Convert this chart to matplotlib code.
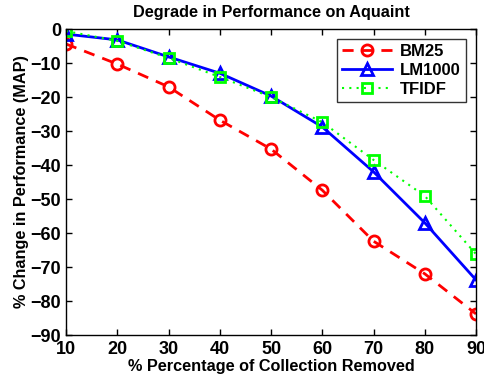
import matplotlib
matplotlib.use("Agg")
import matplotlib.pyplot as plt

# Datos
removed = [10, 20, 30, 40, 50, 60, 70, 80, 90]
bm25 = [-4.4, -10.3, -17.0, -26.8, -35.3, -47.4, -62.4, -72.0, -83.8]
lm1000 = [-1.5, -3.2, -8.2, -13.0, -19.7, -28.8, -42.0, -57.0, -73.8]
tfidf = [-0.6, -3.5, -8.5, -14.1, -20.0, -27.4, -38.5, -49.1, -66.2]
xticks = [10, 20, 30, 40, 50, 60, 70, 80, 90]
yticks = [0, -10, -20, -30, -40, -50, -60, -70, -80, -90]

plt.rcParams["font.family"] = ["Liberation Sans", "DejaVu Sans"]
plt.rcParams["font.weight"] = "bold"

fig = plt.figure(figsize=(4.85, 3.8), dpi=100)
ax = fig.add_axes([66 / 485, 1 - 335 / 380, 410 / 485, 306 / 380])

ax.plot(removed, bm25, color="#ff0000", linestyle=(0, (4, 3)), linewidth=2,
        marker="o", markersize=8, markerfacecolor="none", markeredgewidth=2,
        label="BM25")
ax.plot(removed, lm1000, color="#0000ff", linestyle="-", linewidth=2,
        marker="^", markersize=9, markerfacecolor="none", markeredgewidth=2,
        label="LM1000")
ax.plot(removed, tfidf, color="#00ff00", linestyle=(0, (1, 2.5)), linewidth=1.5,
        marker="s", markersize=7, markerfacecolor="none", markeredgewidth=2,
        label="TFIDF")

ax.set_xlim(10, 90)
ax.set_ylim(-90, 0)
ax.set_xticks(xticks)
ax.set_yticks(yticks)
ax.set_yticklabels([str(t).replace("-", "\u2212") for t in yticks])
ax.tick_params(direction="in", top=True, right=True, labelsize=13, length=4, width=1)
ax.tick_params(axis="x", pad=4)
for lab in ax.get_xticklabels() + ax.get_yticklabels():
    lab.set_fontweight("bold")
for spine in ax.spines.values():
    spine.set_linewidth(1)

ax.set_title("Degrade in Performance on Aquaint", fontsize=11.7, fontweight="bold", pad=9)
ax.set_xlabel("% Percentage of Collection Removed", fontsize=11.7, fontweight="bold", labelpad=1)
ax.set_ylabel("% Change in Performance (MAP)", fontsize=11.7, fontweight="bold", labelpad=1)

leg = ax.legend(loc="upper right", fontsize=12, frameon=True, fancybox=False,
                edgecolor="black", handlelength=3, borderpad=0.3, labelspacing=0.25,
                handletextpad=0.5, borderaxespad=0.6)
leg.get_frame().set_linewidth(1)
for t in leg.get_texts():
    t.set_fontweight("bold")

fig.savefig("out.png", dpi=100)
